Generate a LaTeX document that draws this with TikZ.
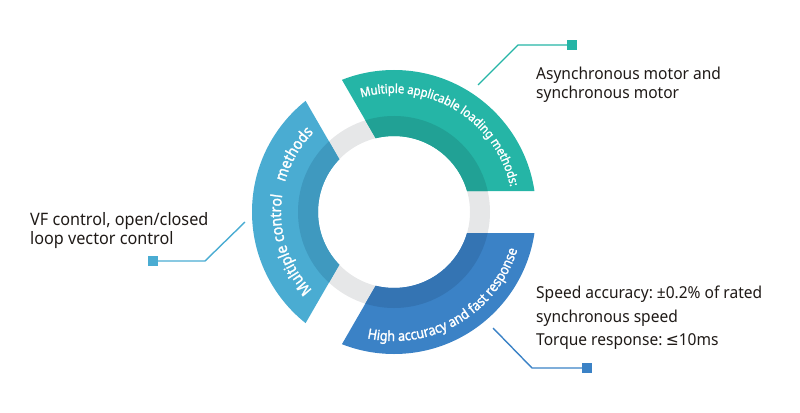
\documentclass[tikz,border=0pt]{standalone}
\usepackage{fontspec}
\setmainfont{Noto Sans}[FakeStretch=0.945]
\newfontfamily\arcfam{Noto Sans}[FakeStretch=0.9, AutoFakeBold=1.6]
\newfontfamily\symfam{DejaVu Sans}[FakeStretch=0.945]
\usetikzlibrary{decorations.text}

\definecolor{ringgray}{HTML}{E6E7E8}
\definecolor{loadteal}{HTML}{25B5A6}
\definecolor{loaddark}{HTML}{21A195}
\definecolor{ctrlblue}{HTML}{4AACD2}
\definecolor{ctrldark}{HTML}{3F99BF}
\definecolor{accblue}{HTML}{3B82C6}
\definecolor{accdark}{HTML}{3474B3}
\definecolor{labelink}{HTML}{1F1A17}

\newcommand\arcfont[1]{\arcfam\fontsize{#1}{#1}\selectfont\bfseries\color{white}}

\begin{document}
\begin{tikzpicture}[x=1bp, y=1bp,
  every node/.style={text=labelink},
  leader/.style={line width=1.4bp},
  tipbox/.style={rectangle, minimum size=10bp, inner sep=0pt},
  infotext/.style={anchor=north west, align=left, inner sep=0pt,
    font=\fontsize{16.5}{19.5}\selectfont}]

  \useasboundingbox (0,0) rectangle (800,412);

  % Centre of the ring
  \coordinate (ctr) at (394,200);

  % Gray ring behind the sectors
  \fill[ringgray, even odd rule] (ctr) circle (96bp) (ctr) circle (76bp);

  % Loading methods sector (top right)
  \begin{scope}[shift={(ctr)}]
  \begin{scope}[shift={(60:24.25bp)}]
    \clip (0,0) -- (0:400bp) -- (60:400bp) -- (120:400bp) -- cycle;
    \fill[loadteal, even odd rule] (ctr) circle (142bp) (ctr) circle (76bp);
    \fill[loaddark, even odd rule] (ctr) circle (96bp) (ctr) circle (76bp);
  \end{scope}
  \end{scope}

  % Control methods sector (left)
  \begin{scope}[shift={(ctr)}]
  \begin{scope}[shift={(180:24.25bp)}]
    \clip (0,0) -- (120:400bp) -- (180:400bp) -- (240:400bp) -- cycle;
    \fill[ctrlblue, even odd rule] (ctr) circle (142bp) (ctr) circle (76bp);
    \fill[ctrldark, even odd rule] (ctr) circle (96bp) (ctr) circle (76bp);
  \end{scope}
  \end{scope}

  % Accuracy sector (bottom right)
  \begin{scope}[shift={(ctr)}]
  \begin{scope}[shift={(300:24.25bp)}]
    \clip (0,0) -- (240:400bp) -- (300:400bp) -- (360:400bp) -- cycle;
    \fill[accblue, even odd rule] (ctr) circle (142bp) (ctr) circle (76bp);
    \fill[accdark, even odd rule] (ctr) circle (96bp) (ctr) circle (76bp);
  \end{scope}
  \end{scope}

  % Curved titles
  \path[shift={(ctr)}, decorate, decoration={text along path, text align=center,
    text={|\arcfont{12.5}|Multiple applicable loading methods:}}]
    (119:119bp) arc[start angle=119, end angle=-1, radius=119bp];
  \path[shift={(ctr)}, decorate, decoration={text along path, text align=center,
    text={|\arcfont{15.5}|Multiple control}}]
    (250:113bp) arc[start angle=250, end angle=145, radius=113bp];
  \path[shift={(ctr)}, decorate, decoration={text along path, text align=center,
    text={|\arcfont{15.5}|methods}}]
    (180:113bp) arc[start angle=180, end angle=120, radius=113bp];
  \path[shift={(ctr)}, decorate, decoration={text along path, text align=center,
    text={|\arcfont{14}|High accuracy and fast response}}]
    (240.5:129bp) arc[start angle=240.5, end angle=360.5, radius=129bp];

  % Side texts
  \node[infotext] (loadinfo) at (536,345.5) {Asynchronous motor and\\synchronous motor};
  \node[infotext, font=\fontsize{17.2}{18.5}\selectfont] (ctrlinfo) at (30,199.5)
    {VF control, open/closed\\loop vector control};
  \node[infotext, font=\fontsize{16.5}{23.5}\selectfont] (accinfo) at (536,126)
    {Speed accuracy:\hspace{-1.5bp} ±0.2\% of rated\\synchronous speed\\Torque response:\hspace{-2bp} {\symfam ≤}10ms};

  % Leader lines with end squares
  \node[tipbox, fill=loadteal] (loadtip) at (572,367) {};
  \coordinate (loadfoot) at (478,327);
  \draw[leader, loadteal] (loadfoot) -- ++(40,40) -- (loadtip);

  \node[tipbox, fill=ctrlblue] (ctrltip) at (153,151) {};
  \coordinate (ctrlfoot) at (245,190);
  \draw[leader, ctrlblue] (ctrlfoot) -- ++(-40,-39) -- (ctrltip);

  \node[tipbox, fill=accblue] (acctip) at (587,44) {};
  \coordinate (accfoot) at (493,84);
  \draw[leader, accblue] (accfoot) -- ++(39,-40) -- (acctip);

\end{tikzpicture}
\end{document}
